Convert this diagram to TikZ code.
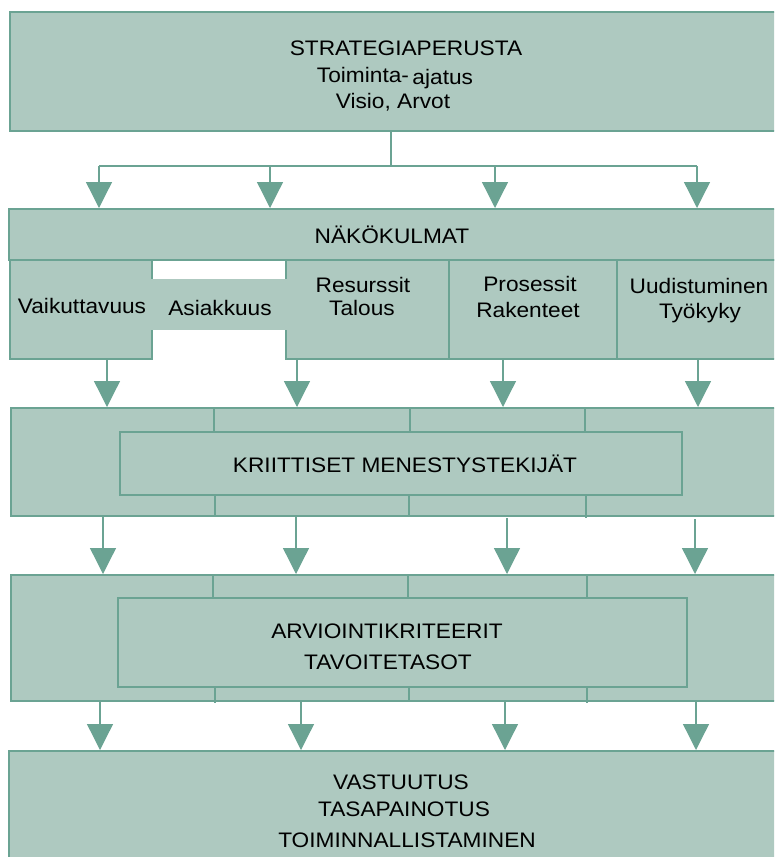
\documentclass[tikz,border=0pt]{standalone}
\usepackage{fontspec}
\setmainfont{Liberation Sans}[FakeStretch=1.08]
\usetikzlibrary{arrows.meta}
\definecolor{boxfill}{RGB}{174,201,192}
\definecolor{boxline}{RGB}{107,163,147}
\tikzset{
  box/.style={draw=boxline, fill=boxfill, line width=1.3pt, inner sep=0pt, outer sep=0pt, anchor=north west},
  band/.style={fill=boxfill, inner sep=0pt, outer sep=0pt, anchor=north west},
  txt/.style={font=\fontsize{21}{25}\selectfont, inner sep=0pt, anchor=base, text=black},
  conn/.style={draw=boxline, line width=1.3pt},
  arr/.style={draw=boxline, line width=1.3pt, -{Triangle[width=26pt,length=26pt,fill=boxline]}, shorten >=1pt},
}
\begin{document}
\begin{tikzpicture}[x=1pt,y=-1pt]
\useasboundingbox (0,0) rectangle (774,857);
\clip (0,0) rectangle (774,857);

% row 1
\node[box, minimum width=770pt, minimum height=119pt] (r1) at (10,12) {};
\node[txt] (t1a) at (406,55) {STRATEGIAPERUSTA};
\node[txt] (t1b) at (395,82) {Toiminta-\,\raisebox{-2pt}{ajatus}};
\node[txt] (t1c) at (393,108) {Visio, Arvot};

% row 2
\node[box, minimum width=771pt, minimum height=51pt] (r2h) at (9,209) {};
\node[txt] (t2) at (392,243) {NÄKÖKULMAT};
\node[box, minimum width=142pt, minimum height=99pt] (c1) at (10,260) {};
\node[box, minimum width=163pt, minimum height=99pt] (c3) at (286,260) {};
\node[box, minimum width=168pt, minimum height=99pt] (c4) at (449,260) {};
\node[box, minimum width=163pt, minimum height=99pt] (c5) at (617,260) {};
\node[band, minimum width=135.2pt, minimum height=51pt] (c2) at (151.4,279) {};
\node[txt] (t21) at (82,313) {Vaikuttavuus};
\node[txt] (t22) at (220,315) {Asiakkuus};
\node[txt] (t23a) at (363,292) {Resurssit};
\node[txt] (t23b) at (362,315) {Talous};
\node[txt] (t24a) at (530,291) {Prosessit};
\node[txt] (t24b) at (528,317) {Rakenteet};
\node[txt] (t25a) at (699,293) {Uudistuminen};
\node[txt] (t25b) at (700,318) {Työkyky};

% row 3
\node[box, minimum width=769pt, minimum height=108pt] (r3) at (11,408) {};
\node[box, minimum width=562pt, minimum height=63pt] (k3) at (120,432) {};
\draw[conn] (r3.north -| 214,0) -- (k3.north -| 214,0);
\draw[conn] (r3.north -| 410,0) -- (k3.north -| 410,0);
\draw[conn] (r3.north -| 585,0) -- (k3.north -| 585,0);
\draw[conn] (k3.south -| 215,0) -- (r3.south -| 215,0);
\draw[conn] (k3.south -| 409,0) -- (r3.south -| 409,0);
\draw[conn] (k3.south -| 586,0) -- ([yshift=-2pt]r3.south -| 586,0);
\node[txt] (t3) at (405,472) {KRIITTISET MENESTYSTEKIJÄT};

% row 4
\node[box, minimum width=769pt, minimum height=126pt] (r4) at (11,575) {};
\node[box, minimum width=569pt, minimum height=89pt] (k4) at (118,598) {};
\draw[conn] (r4.north -| 213,0) -- (k4.north -| 213,0);
\draw[conn] (r4.north -| 408,0) -- (k4.north -| 408,0);
\draw[conn] (r4.north -| 587,0) -- (k4.north -| 587,0);
\draw[conn] (k4.south -| 215,0) -- ([yshift=-2pt]r4.south -| 215,0);
\draw[conn] (k4.south -| 409,0) -- (r4.south -| 409,0);
\draw[conn] (k4.south -| 587,0) -- ([yshift=-2pt]r4.south -| 587,0);
\node[txt] (t4a) at (387,638) {ARVIOINTIKRITEERIT};
\node[txt] (t4b) at (388,669) {TAVOITETASOT};

% row 5
\node[box, minimum width=771pt, minimum height=120pt] (r5) at (9,751) {};
\node[txt] (t5a) at (401,789) {VASTUUTUS};
\node[txt] (t5b) at (404,816) {TASAPAINOTUS};
\node[txt] (t5c) at (407,847) {TOIMINNALLISTAMINEN};

% connectors row 1 -> row 2
\coordinate (hub) at (391,166);
\coordinate (a11) at (99,166);
\coordinate (a12) at (270,166);
\coordinate (a13) at (495,166);
\coordinate (a14) at (697,166);
\draw[conn] (r1.south -| hub) -- (hub);
\draw[conn] (a11) -- (a14);
\draw[arr] (a11) -- (r2h.north -| a11);
\draw[arr] (a12) -- (r2h.north -| a12);
\draw[arr] (a13) -- (r2h.north -| a13);
\draw[arr] (a14) -- (r2h.north -| a14);

% row 2 -> row 3
\draw[arr] (c1.south -| 107,0) -- (r3.north -| 107,0);
\draw[arr] (c3.south -| 297,0) -- (r3.north -| 297,0);
\draw[arr] (c4.south -| 503,0) -- (r3.north -| 503,0);
\draw[arr] (c5.south -| 698,0) -- (r3.north -| 698,0);

% row 3 -> row 4
\draw[arr] (r3.south -| 103,0) -- (r4.north -| 103,0);
\draw[arr] (r3.south -| 296,0) -- (r4.north -| 296,0);
\draw[arr] ([yshift=-2pt]r3.south -| 507,0) -- (r4.north -| 507,0);
\draw[arr] ([yshift=-3pt]r3.south -| 695,0) -- (r4.north -| 695,0);

% row 4 -> row 5
\draw[arr] (r4.south -| 100,0) -- (r5.north -| 100,0);
\draw[arr] (r4.south -| 301,0) -- (r5.north -| 301,0);
\draw[arr] (r4.south -| 505,0) -- (r5.north -| 505,0);
\draw[arr] (r4.south -| 696,0) -- (r5.north -| 696,0);
\end{tikzpicture}
\end{document}
